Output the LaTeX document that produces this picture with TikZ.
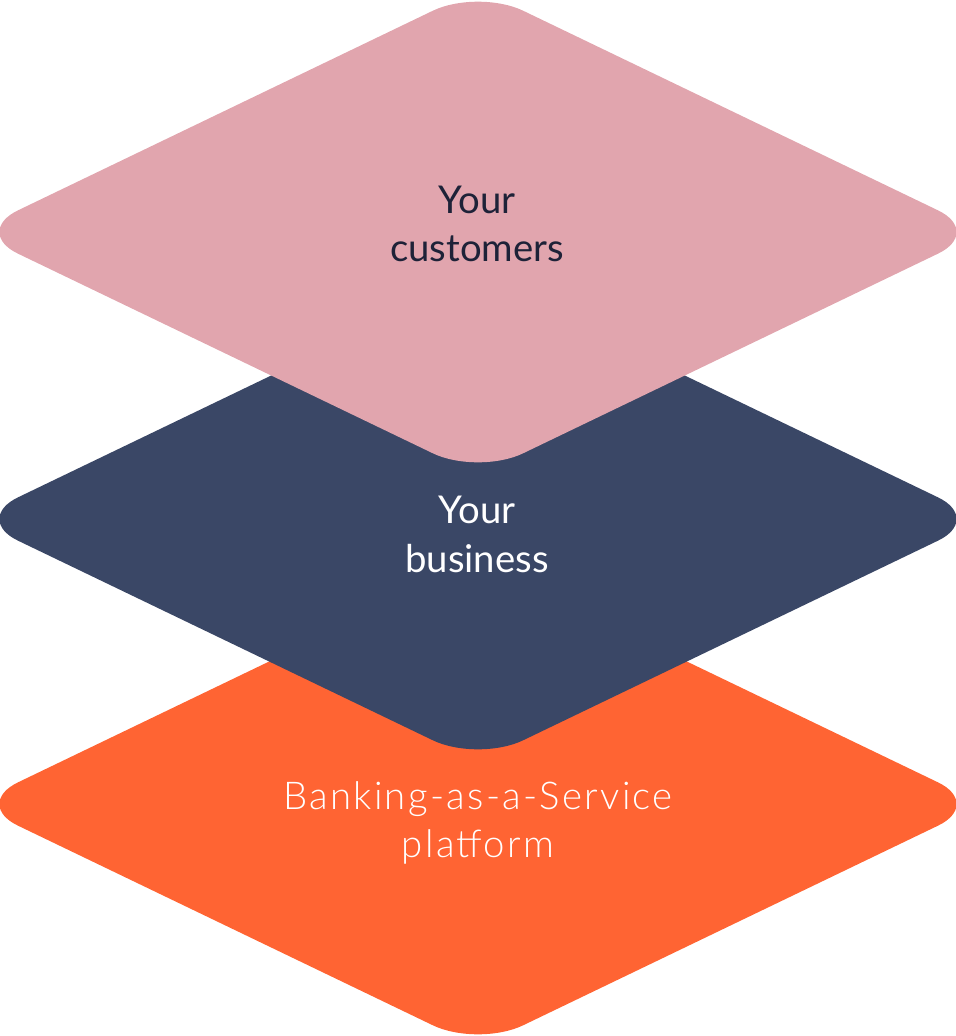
\documentclass[tikz,border=0pt]{standalone}
\usepackage{fontspec}
\setmainfont{Lato}
\newfontfamily\lightfont{Lato}[UprightFont=* Light, LetterSpace=6]
\definecolor{custpink}{HTML}{E1A5AE}
\definecolor{bizblue}{HTML}{3A4766}
\definecolor{baasorange}{HTML}{FF6433}
\definecolor{inkdark}{HTML}{1E2238}
\begin{document}
\begin{tikzpicture}[x=0.02cm, y=-0.02cm]
        \tikzstyle{layer}=[rounded corners=1cm]
        \tikzstyle{layertext}=[font=\fontsize{21.8}{27.8}\selectfont, align=center, inner sep=0pt]

        \useasboundingbox (0,0) rectangle (956,1036);

        % layers, bottom one first
        \coordinate (platform) at (478,804);
        \coordinate (business) at (478,519);
        \coordinate (customers) at (478,232);

        \fill[baasorange, layer, shift={(platform)}] (-505,0) -- (0,-243) -- (505,0) -- (0,243) -- cycle;
        \fill[bizblue, layer, shift={(business)}] (-505,0) -- (0,-243) -- (505,0) -- (0,243) -- cycle;
        \fill[custpink, layer, shift={(customers)}] (-505,0) -- (0,-243) -- (505,0) -- (0,243) -- cycle;

        \node[layertext, text=inkdark] (custtext) at (477,224) {Your\\customers};
        \node[layertext, text=white] (biztext) at (477,534) {Your\\business};
        \node[layertext, text=white, font=\fontsize{21.8}{27.8}\lightfont] (baastext) at (478,823) {Banking-as-a-Service\\platform};
    \end{tikzpicture}
\end{document}
